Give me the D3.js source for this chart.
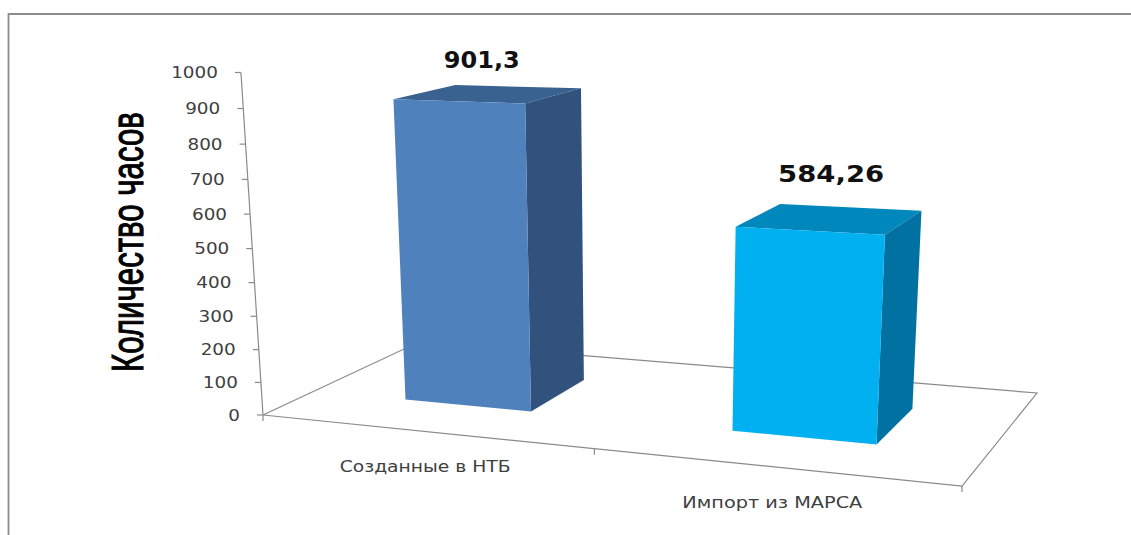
<!DOCTYPE html>
<html><head><meta charset="utf-8">
<script src="https://cdnjs.cloudflare.com/ajax/libs/d3/7.8.5/d3.min.js"></script>
<style>html,body{margin:0;padding:0;background:#fff}svg{display:block}</style>
</head><body><svg id="c" width="1131" height="535"></svg>
<script>
const categories = ["Созданные в НТБ", "Импорт из МАРСА"];
const values = [901.3, 584.26];
const valueLabels = ["901,3", "584,26"];
const tickValues = [0,100,200,300,400,500,600,700,800,900,1000];
const axisTitle = "Количество часов";
const frontColors = ["#4f81bd", "#00b0f0"];
const topColors = ["#3a6290", "#0088bd"];
const sideColors = ["#31527c", "#0071a0"];

const svg = d3.select("#c");
const grey = "#8a8a8a", textCol = "#404040";

// Perspective camera of the 3-D chart: unit floor (u,z) plus height (s)
const H = {a:569.9,b:217.8,c:263,d:5.8,e:-22.6,f:415,g:-.1342,h:.1474,kx:-35.3,ky:-346.5,kw:-.055};
function project(u,z,s){
  const w = 1 + H.g*u + H.h*z + H.kw*s;
  return [(H.a*u + H.b*z + H.c + H.kx*s)/w, (H.d*u + H.e*z + H.f + H.ky*s)/w];
}
const xBand = d3.scaleBand().domain(categories).range([.002,1.004]).paddingInner(.6).paddingOuter(.3);
const zDepth = d3.scaleLinear().domain([0,1]).range([.3,.7]);
const vScale = d3.scaleLinear().domain([0,1000]).range([0,1]);
const line = d3.line();

// frame: top and left rules only
svg.append("path").attr("d","M8.5,535V14H1131").attr("fill","none").attr("stroke","#8c8c8c").attr("stroke-width",1.8);

// floor
const floor = [[0,0],[1,0],[1,1],[0,1],[0,0]].map(d=>project(d[0],d[1],0));
svg.append("path").attr("d",line(floor)).attr("fill","none").attr("stroke",grey).attr("stroke-width",1.2);

// value axis
svg.append("path").attr("d",line([project(0,0,0),project(0,0,1)])).attr("fill","none").attr("stroke",grey).attr("stroke-width",1.2);
const tg = svg.append("g").selectAll("g").data(tickValues).join("g");
tg.append("line").each(function(d){
  const p = project(0,0,vScale(d));
  d3.select(this).attr("x1",p[0]).attr("x2",p[0]-6).attr("y1",p[1]).attr("y2",p[1]).attr("stroke",grey).attr("stroke-width",1.2);
});
tg.append("text").text(d=>d).each(function(d){
  const p = project(0,0,vScale(d));
  d3.select(this).attr("x",p[0]-23).attr("y",p[1]+5.5).attr("text-anchor","end")
    .attr("font-family","DejaVu Sans").attr("font-size",15.5).attr("fill",textCol)
    .attr("textLength",String(d).length*11.7).attr("lengthAdjust","spacingAndGlyphs");
});

// category ticks
[0, .51, 1].forEach(u=>{
  const p = project(u,0,0);
  svg.append("line").attr("x1",p[0]).attr("x2",p[0]).attr("y1",p[1]).attr("y2",p[1]+6).attr("stroke",grey).attr("stroke-width",1.2);
});

// bars
categories.forEach((cat,i)=>{
  const u0 = xBand(cat), u1 = u0 + xBand.bandwidth();
  const z0 = zDepth(0), z1 = zDepth(1), s = vScale(values[i]);
  svg.append("path").attr("fill",topColors[i]).attr("d",line([project(u0,z0,s),project(u1,z0,s),project(u1,z1,s),project(u0,z1,s)])+"Z");
  svg.append("path").attr("fill",sideColors[i]).attr("d",line([project(u1,z0,0),project(u1,z1,0),project(u1,z1,s),project(u1,z0,s)])+"Z");
  svg.append("path").attr("fill",frontColors[i]).attr("d",line([project(u0,z0,0),project(u1,z0,0),project(u1,z0,s),project(u0,z0,s)])+"Z");
});

// value labels
const labelShift = [[-7,-26],[1,-37]], labelWidth = [76,106];
values.forEach((v,i)=>{
  const uc = xBand(categories[i]) + xBand.bandwidth()/2;
  const p = project(uc,zDepth(.5),vScale(v));
  svg.append("text").text(valueLabels[i]).attr("x",p[0]+labelShift[i][0]).attr("y",p[1]+labelShift[i][1])
    .attr("text-anchor","middle").attr("font-family","DejaVu Sans").attr("font-weight","bold")
    .attr("font-size",22.5).attr("fill","#111").attr("textLength",labelWidth[i]).attr("lengthAdjust","spacingAndGlyphs");
});

// category labels
const catShift = [4,2], catWidth = [171,180];
categories.forEach((cat,i)=>{
  const uc = xBand(cat) + xBand.bandwidth()/2;
  const p = project(uc,0,0);
  svg.append("text").text(cat).attr("x",p[0]+catShift[i]).attr("y",p[1]+41)
    .attr("text-anchor","middle").attr("font-family","DejaVu Sans").attr("font-size",15.5)
    .attr("fill",textCol).attr("textLength",catWidth[i]).attr("lengthAdjust","spacingAndGlyphs");
});

// axis title: condensed by a horizontal scale so its box stays inside the picture
const titleEl = svg.append("text").text(axisTitle)
  .attr("font-family","Liberation Sans Narrow, Liberation Sans").attr("font-size",45)
  .attr("fill","#000").attr("stroke","#000").attr("stroke-width",1.1);
const titleScale = 260 / titleEl.node().getComputedTextLength();
titleEl.attr("transform",`translate(143,372) rotate(-90) scale(${titleScale},1)`);
</script></body></html>
